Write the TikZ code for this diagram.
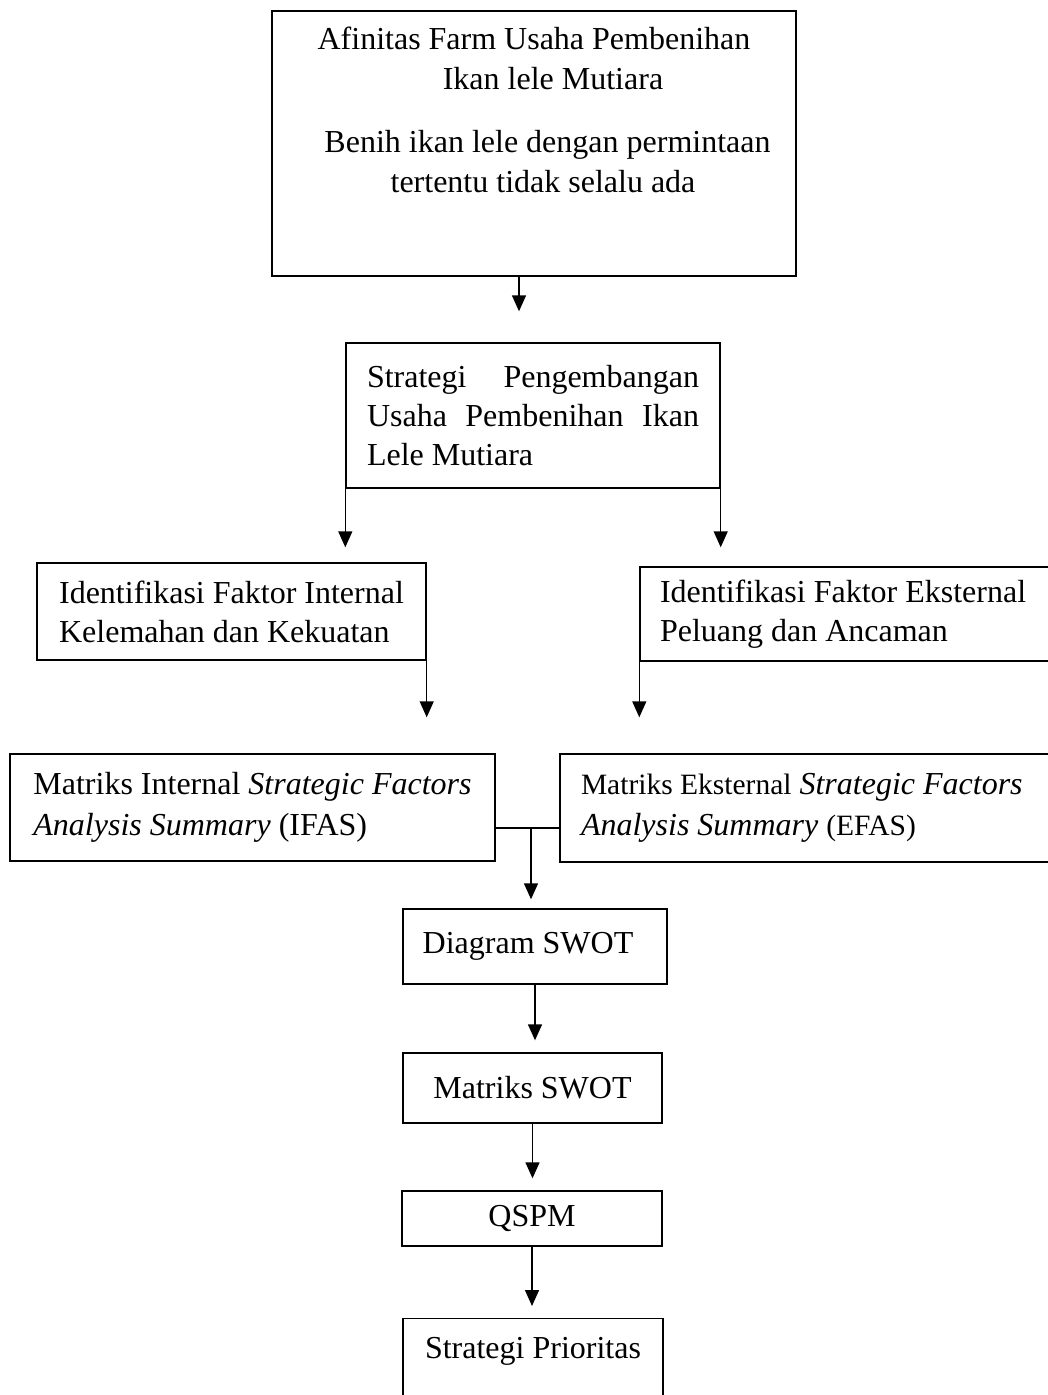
\documentclass[tikz,border=0pt]{standalone}
\usepackage{fontspec}
\setmainfont{Liberation Serif}
\usetikzlibrary{arrows.meta}
\tolerance=10000
\hyphenpenalty=10000
\newcommand\smallrm{\fontsize{29.5}{39}\selectfont}

\begin{document}
\begin{tikzpicture}[x=1pt, y=-1pt,
    box/.style={draw, line width=1.4pt, inner sep=0pt, font=\fontsize{32}{39}\selectfont},
    arr/.style={line width=1.4pt, -{Triangle[length=16pt,width=14pt]}}]
  \useasboundingbox (0,0) rectangle (1048,1395);
  \node[box, line width=2pt, anchor=north, minimum width=524pt, minimum height=265pt, align=center,
        text depth=68pt, font=\fontsize{32}{40}\selectfont] (afinitas) at (534,10)
        {Afinitas Farm Usaha Pembenihan\\\hspace*{38pt}Ikan lele Mutiara\\[23pt]
         \hspace*{27pt}Benih ikan lele dengan permintaan\\\hspace*{18pt}tertentu tidak selalu ada};
  \node[box, minimum height=145pt, text width=332pt, inner xsep=21pt, align=justify] (strategi) at (533,415.5)
        {Strategi Pengembangan Usaha Pembenihan Ikan Lele Mutiara};
  \node[box, minimum width=389pt, minimum height=97pt, align=left] (internal) at (231.5,611.5)
        {Identifikasi Faktor Internal\\Kelemahan dan Kekuatan};
  \node[box, minimum height=94pt, text width=420pt, inner xsep=20pt, align=flush left] (external) at (870,614)
        {Identifikasi Faktor Eksternal\\Peluang dan Ancaman};
  \node[box, minimum width=485pt, minimum height=107pt, align=left,
        font=\fontsize{32}{41}\selectfont] (ifas) at (252.5,807.5)
        {Matriks Internal \textit{Strategic Factors}\\\textit{Analysis Summary} (IFAS)};
  \node[box, minimum height=108pt, text width=500pt, inner xsep=21pt, align=flush left,
        font=\fontsize{32}{41}\selectfont] (efas) at (831,808)
        {{\smallrm Matriks Eksternal} \textit{Strategic Factors}\\\textit{Analysis Summary} {\smallrm (EFAS)}};
  \node[box, minimum width=264pt, minimum height=75pt] (swot) at (535,946.5) {Diagram SWOT\hspace*{14pt}};
  \node[box, minimum width=259pt, minimum height=70pt] (matriks) at (532.5,1088) {Matriks SWOT};
  \node[box, minimum width=260pt, minimum height=55pt] (qspm) at (532,1218.5) {QSPM};
  \node[box, anchor=north, minimum width=260pt, minimum height=120pt, text depth=62pt] (prioritas) at (533,1318)
        {Strategi Prioritas};

  \draw[arr, shorten >=31pt] ([xshift=-15pt]afinitas.south) -- ([xshift=-15pt]afinitas.south |- strategi.north);
  \draw[arr, shorten >=15pt] (strategi.south west) -- (strategi.south west |- internal.north);
  \draw[arr, shorten >=19pt] (strategi.south east) -- (strategi.south east |- external.north);
  \draw[arr, shorten >=36pt] (internal.south east) -- (internal.south east |- ifas.north);
  \draw[arr, shorten >=36pt] (external.south west) -- (external.south west |- efas.north);
  \coordinate (join) at (531,828);
  \draw[line width=1.4pt] (ifas.east |- join) -- (efas.west |- join);
  \draw[arr, shorten >=9pt] (join) -- (join |- swot.north);
  \foreach \a/\b in {swot/matriks, matriks/qspm, qspm/prioritas}
    \draw[arr, shorten >=12pt] (\a.south) -- (\a.south |- \b.north);
\end{tikzpicture}
\end{document}
